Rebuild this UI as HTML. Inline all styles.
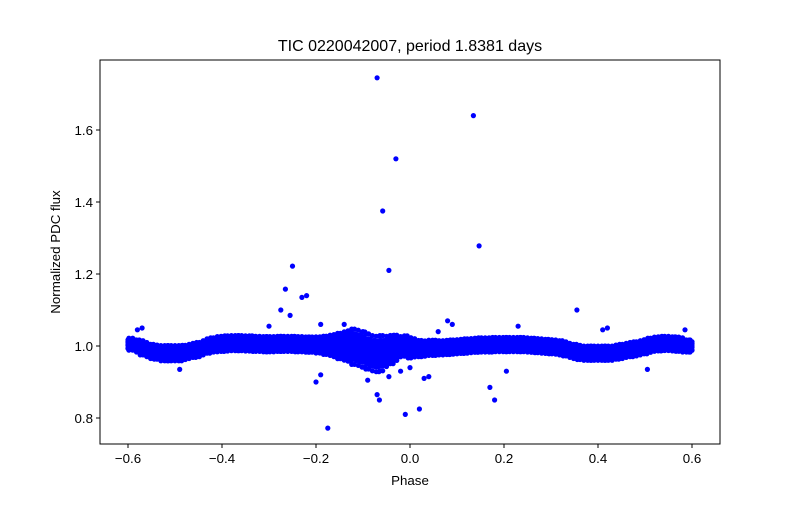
<!DOCTYPE html>
<html><head><meta charset="utf-8"><style>
body{margin:0;background:#fff;}
svg text{font-family:"Liberation Sans","DejaVu Sans",sans-serif;fill:#000;}
</style></head><body>
<svg id="chart" width="800" height="500" viewBox="0 0 800 500">
<rect x="0" y="0" width="800" height="500" fill="#fff"/>
<text x="410" y="51" font-size="16" text-anchor="middle">TIC 0220042007, period 1.8381 days</text>
<g id="marks"></g>
<rect x="100" y="60" width="620" height="384" fill="none" stroke="#000" stroke-width="1"/>
<g id="xticks"></g>
<g id="yticks"></g>
<text x="410" y="485" font-size="13.3" text-anchor="middle">Phase</text>
<text x="0" y="0" font-size="13.3" text-anchor="middle" transform="translate(60,252) rotate(-90)">Normalized PDC flux</text>
</svg>
<script>
const xTicks=[-0.6,-0.4,-0.2,0.0,0.2,0.4,0.6];
const xTickLabels=["−0.6","−0.4","−0.2","0.0","0.2","0.4","0.6"];
const yTicks=[0.8,1.0,1.2,1.4,1.6];
const yTickLabels=["0.8","1.0","1.2","1.4","1.6"];
// binned mean flux along phase (-0.60 to 0.60 step 0.01)
const bandPhase=[];
for(let i=0;i<=120;i++)bandPhase.push(+(-0.6+i*0.01).toFixed(2));
const bandMean=[1.005,1.005,1.0,0.995,0.99,0.985,0.983,0.98,0.98,0.98,0.98,0.98,0.982,0.985,0.988,0.99,0.995,1.0,1.003,1.005,1.006,1.007,1.008,1.008,1.008,1.007,1.007,1.006,1.006,1.005,1.005,1.005,1.006,1.006,1.006,1.006,1.005,1.005,1.004,1.004,1.003,1.003,1.002,1.002,1.001,1.0,1.0,1.0,0.998,0.995,0.99,0.985,0.98,0.978,0.98,0.985,0.99,0.995,0.998,1.0,0.995,0.995,0.993,0.993,0.995,0.995,0.995,0.995,0.996,0.997,0.998,0.999,1.0,1.001,1.002,1.003,1.003,1.003,1.004,1.004,1.004,1.004,1.004,1.004,1.004,1.003,1.002,1.001,1.0,0.999,0.998,0.997,0.995,0.992,0.988,0.985,0.982,0.98,0.98,0.98,0.98,0.98,0.98,0.98,0.983,0.985,0.988,0.99,0.992,0.995,0.998,1.002,1.005,1.006,1.007,1.007,1.006,1.005,1.003,1.0,1.0];
const bandSpread=[0.012,0.012,0.012,0.014,0.014,0.014,0.014,0.015,0.015,0.015,0.015,0.015,0.014,0.014,0.014,0.014,0.014,0.014,0.014,0.015,0.015,0.015,0.015,0.015,0.015,0.015,0.015,0.015,0.015,0.015,0.015,0.015,0.015,0.015,0.015,0.015,0.015,0.015,0.015,0.015,0.016,0.016,0.018,0.02,0.022,0.025,0.028,0.03,0.035,0.035,0.035,0.035,0.035,0.035,0.035,0.03,0.028,0.025,0.02,0.02,0.02,0.018,0.016,0.015,0.015,0.015,0.014,0.014,0.014,0.014,0.014,0.014,0.014,0.014,0.014,0.014,0.014,0.014,0.014,0.014,0.014,0.014,0.014,0.014,0.014,0.014,0.014,0.014,0.014,0.014,0.014,0.014,0.014,0.014,0.014,0.014,0.014,0.014,0.014,0.014,0.014,0.014,0.014,0.014,0.014,0.014,0.014,0.014,0.014,0.014,0.014,0.014,0.014,0.014,0.014,0.014,0.014,0.014,0.014,0.012,0.012];
const outPhase=[-0.07,0.135,-0.03,-0.058,0.147,-0.25,-0.045,-0.265,-0.23,-0.22,-0.275,-0.255,0.355,-0.175,-0.2,-0.19,-0.07,-0.065,-0.01,0.02,0.17,0.18,0.205,-0.09,-0.045,0.03,0.04,-0.3,0.08,0.09,0.23,0.41,0.42,-0.57,-0.58,0.585,-0.49,0.505,-0.19,-0.14,-0.02,0.0,-0.1,0.06];
const outFlux=[1.745,1.64,1.52,1.375,1.278,1.222,1.21,1.158,1.135,1.14,1.10,1.085,1.10,0.772,0.90,0.92,0.865,0.85,0.81,0.825,0.885,0.85,0.93,0.905,0.915,0.91,0.915,1.055,1.07,1.06,1.055,1.045,1.05,1.05,1.045,1.045,0.935,0.935,1.06,1.06,0.93,0.94,1.04,1.04];
const NS="http://www.w3.org/2000/svg";
function xs(v){return 410+v*470;}
function ys(v){return 346-(v-1.0)*360;}
const marks=document.getElementById('marks');
function dot(px,fy){
  const c=document.createElementNS(NS,'circle');
  c.setAttribute('cx',xs(px).toFixed(1));c.setAttribute('cy',ys(fy).toFixed(1));
  c.setAttribute('r','2.6');c.setAttribute('fill','#0000ff');
  
  
  marks.appendChild(c);
}
const offs=[-1,-0.66,-0.33,0,0.33,0.66,1];
const subs=[-0.004,-0.002,0,0.002,0.004];
for(let i=0;i<bandPhase.length;i++){
  subs.forEach((sub,k)=>{
    offs.forEach((o,j)=>{
      const f=((i+k+j)%3===0)?1.4:1.0;
      if(Math.abs(bandPhase[i]+sub)<=0.6) dot(bandPhase[i]+sub,bandMean[i]+o*f*bandSpread[i]);
    });
  });
}
for(let i=0;i<outPhase.length;i++)dot(outPhase[i],outFlux[i]);
const xg=document.getElementById('xticks');
xTicks.forEach((t,i)=>{
  const l=document.createElementNS(NS,'line');
  l.setAttribute('x1',xs(t));l.setAttribute('x2',xs(t));l.setAttribute('y1',444);l.setAttribute('y2',448);l.setAttribute('stroke','#000');
  
  
  xg.appendChild(l);
  const tx=document.createElementNS(NS,'text');
  tx.setAttribute('x',xs(t));tx.setAttribute('y',463);tx.setAttribute('font-size','13.3');tx.setAttribute('text-anchor','middle');
  tx.textContent=xTickLabels[i];
  
  
  xg.appendChild(tx);
});
const yg=document.getElementById('yticks');
yTicks.forEach((t,i)=>{
  const l=document.createElementNS(NS,'line');
  l.setAttribute('x1',96);l.setAttribute('x2',100);l.setAttribute('y1',ys(t));l.setAttribute('y2',ys(t));l.setAttribute('stroke','#000');
  
  
  yg.appendChild(l);
  const tx=document.createElementNS(NS,'text');
  tx.setAttribute('x',93);tx.setAttribute('y',ys(t)+5);tx.setAttribute('font-size','13.3');tx.setAttribute('text-anchor','end');
  tx.textContent=yTickLabels[i];
  
  
  yg.appendChild(tx);
});
</script>
</body></html>
